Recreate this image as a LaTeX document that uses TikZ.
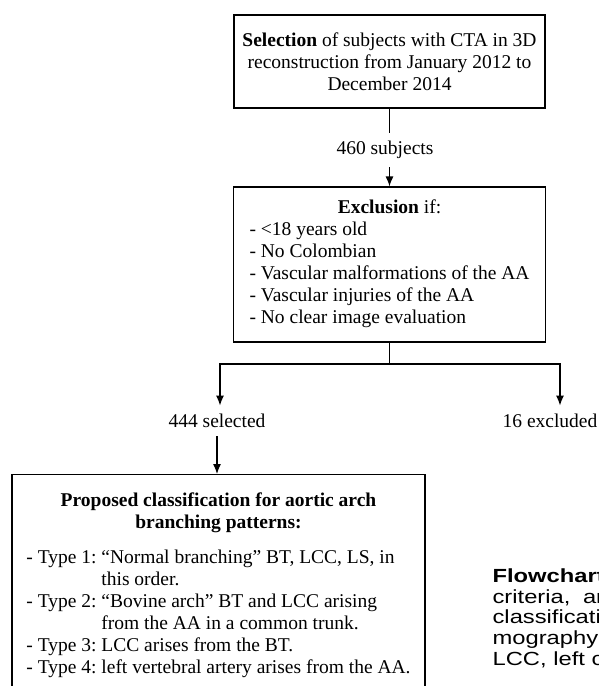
\documentclass[tikz,border=0pt]{standalone}
\usepackage{fontspec}
\setmainfont{Liberation Serif}
\newfontfamily\capfont[FakeStretch=1.25]{Liberation Sans}
\usetikzlibrary{arrows.meta}

\begin{document}
\begin{tikzpicture}[x=1pt,y=-1pt,>={Latex[length=10pt,width=8pt]},line width=1.2pt,
  every node/.style={font=\fontsize{19.5}{22}\selectfont},
  box/.style={draw,rectangle,align=center,inner sep=0pt},
  count/.style={inner xsep=2pt,inner ysep=8pt}]
\useasboundingbox (0,0) rectangle (598,686);
\clip (0,0) rectangle (598,686);
\node[box,minimum width=311pt,minimum height=93pt] (sel)  at (389.5,61.5) {\textbf{Selection} of subjects with CTA in 3D\\ reconstruction from January 2012 to\\ December 2014};
\node[count]                                      (n460) at (385,150)    { 460 subjects };
\node[box,minimum width=312pt,minimum height=155pt] (excl) at (389.5,264.5) {%
  \begin{tabular}{@{}l@{}}
  \multicolumn{1}{@{}c@{}}{\textbf{Exclusion} if:}\\
  - <18 years old\\
  - No Colombian\\
  - Vascular malformations of the AA\\
  - Vascular injuries of the AA\\
  - No clear image evaluation
  \end{tabular}};
\coordinate                                       (fork) at (389.5,364);
\node[count]                                      (kept) at (217,421)    { 444 selected };
\node[count]                                      (drop) at (550,421)    { 16 excluded };
\node[box,anchor=north,minimum width=413pt,inner ysep=16pt] (cls) at (218.5,474) {%
  \begin{tabular}{@{}l@{\ }l@{}}
  \multicolumn{2}{@{}c@{}}{\textbf{Proposed classification for aortic arch}}\\
  \multicolumn{2}{@{}c@{}}{\textbf{branching patterns:}}\\[13pt]
  - Type 1: & “Normal branching” BT, LCC, LS, in\\
            & this order.\\
  - Type 2: & “Bovine arch” BT and LCC arising\\
            & from the AA in a common trunk.\\
  - Type 3: & LCC arises from the BT.\\
  - Type 4: & left vertebral artery arises from the AA.
  \end{tabular}};
% caption beside the chart, cut by the page edge
\node[anchor=north west,align=left,inner sep=0pt,font=\capfont\fontsize{19}{20.8}\selectfont] (capt) at (492,568) {\textbf{Flowchart}\\ criteria,\hspace{6pt} ar\\ classificati\\ mography\\ LCC, left c};
\draw                 (sel)  -- (sel |- n460.north);
\draw[->]             (sel |- n460.south) -- (excl);
\draw                 (excl) -- (fork);
\draw[->]             (fork) -| ([xshift=3pt]kept.north);
\draw[->]             (fork) -| ([xshift=10pt]drop.north);
\draw[->]             (kept) -- (kept |- cls.north);
\end{tikzpicture}
\end{document}
